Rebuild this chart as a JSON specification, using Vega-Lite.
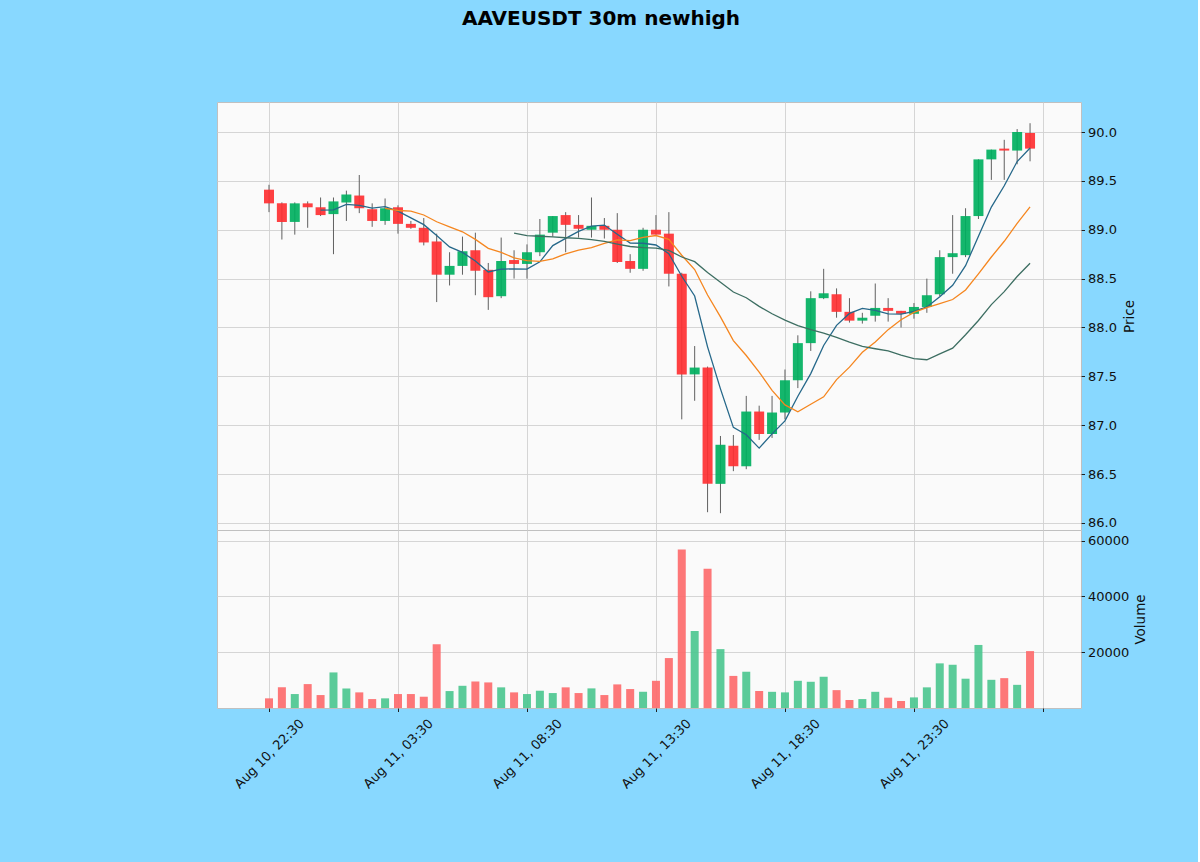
{
  "$schema": "https://vega.github.io/schema/vega-lite/v6.json",
  "background": "#88d8ff",
  "padding": {"left": 216, "top": 8, "right": 50, "bottom": 74},
  "title": {"text": "AAVEUSDT 30m newhigh", "font": "DejaVu Sans", "fontSize": 20, "fontWeight": "bold", "color": "#000000", "anchor": "middle", "frame": "group", "dx": -48, "offset": 57, "baseline": "alphabetic"},
  "config": {
    "font": "DejaVu Sans",
    "view": {"fill": "#fafafa", "stroke": "#c0c0c0", "strokeWidth": 1},
    "axis": {
      "labelFont": "DejaVu Sans", "labelFontSize": 13, "labelColor": "#101010",
      "titleFont": "DejaVu Sans", "titleFontSize": 13.5, "titleFontWeight": "normal", "titleColor": "#101010",
      "gridColor": "#d0d0d0", "gridWidth": 0.9, "tickColor": "#202020", "tickSize": 3.5, "domain": false
    }
  },
  "data": {"values": [
    {"i":0,"open":89.41,"high":89.46,"low":89.18,"close":89.27,"volume":3460},
    {"i":1,"open":89.27,"high":89.28,"low":88.90,"close":89.08,"volume":7400},
    {"i":2,"open":89.08,"high":89.28,"low":88.95,"close":89.27,"volume":5000},
    {"i":3,"open":89.27,"high":89.29,"low":89.02,"close":89.23,"volume":8570},
    {"i":4,"open":89.23,"high":89.33,"low":89.14,"close":89.15,"volume":4640},
    {"i":5,"open":89.16,"high":89.33,"low":88.75,"close":89.29,"volume":12750},
    {"i":6,"open":89.28,"high":89.40,"low":89.09,"close":89.36,"volume":7030},
    {"i":7,"open":89.35,"high":89.56,"low":89.17,"close":89.22,"volume":5600},
    {"i":8,"open":89.21,"high":89.27,"low":89.03,"close":89.09,"volume":3200},
    {"i":9,"open":89.09,"high":89.32,"low":89.05,"close":89.22,"volume":3460},
    {"i":10,"open":89.23,"high":89.25,"low":88.96,"close":89.06,"volume":5000},
    {"i":11,"open":89.06,"high":89.09,"low":89.01,"close":89.02,"volume":5000},
    {"i":12,"open":89.02,"high":89.12,"low":88.84,"close":88.87,"volume":4040},
    {"i":13,"open":88.88,"high":88.96,"low":88.26,"close":88.54,"volume":22850},
    {"i":14,"open":88.54,"high":88.77,"low":88.43,"close":88.63,"volume":6070},
    {"i":15,"open":88.63,"high":88.93,"low":88.54,"close":88.78,"volume":7960},
    {"i":16,"open":88.79,"high":88.97,"low":88.33,"close":88.58,"volume":9520},
    {"i":17,"open":88.59,"high":88.66,"low":88.18,"close":88.31,"volume":9170},
    {"i":18,"open":88.32,"high":88.92,"low":88.30,"close":88.68,"volume":7400},
    {"i":19,"open":88.69,"high":88.79,"low":88.50,"close":88.65,"volume":5600},
    {"i":20,"open":88.65,"high":88.85,"low":88.50,"close":88.77,"volume":5000},
    {"i":21,"open":88.77,"high":89.11,"low":88.73,"close":88.95,"volume":6190},
    {"i":22,"open":88.97,"high":89.14,"low":88.93,"close":89.14,"volume":5360},
    {"i":23,"open":89.15,"high":89.18,"low":88.77,"close":89.05,"volume":7400},
    {"i":24,"open":89.05,"high":89.15,"low":88.92,"close":89.01,"volume":5360},
    {"i":25,"open":89.00,"high":89.33,"low":88.92,"close":89.04,"volume":7030},
    {"i":26,"open":89.04,"high":89.12,"low":88.91,"close":89.00,"volume":4640},
    {"i":27,"open":89.00,"high":89.17,"low":88.66,"close":88.67,"volume":8460},
    {"i":28,"open":88.68,"high":88.75,"low":88.56,"close":88.60,"volume":6790},
    {"i":29,"open":88.60,"high":89.02,"low":88.58,"close":89.00,"volume":5820},
    {"i":30,"open":89.00,"high":89.15,"low":88.95,"close":88.95,"volume":9750},
    {"i":31,"open":88.96,"high":89.18,"low":88.42,"close":88.55,"volume":17900},
    {"i":32,"open":88.55,"high":88.56,"low":87.06,"close":87.52,"volume":56800},
    {"i":33,"open":87.52,"high":87.81,"low":87.25,"close":87.59,"volume":27600},
    {"i":34,"open":87.59,"high":87.60,"low":86.11,"close":86.40,"volume":49900},
    {"i":35,"open":86.40,"high":86.89,"low":86.10,"close":86.80,"volume":21100},
    {"i":36,"open":86.79,"high":86.90,"low":86.53,"close":86.58,"volume":11500},
    {"i":37,"open":86.58,"high":87.30,"low":86.55,"close":87.14,"volume":13000},
    {"i":38,"open":87.14,"high":87.20,"low":86.85,"close":86.91,"volume":6100},
    {"i":39,"open":86.91,"high":87.30,"low":86.87,"close":87.13,"volume":5800},
    {"i":40,"open":87.13,"high":87.57,"low":87.06,"close":87.46,"volume":5600},
    {"i":41,"open":87.46,"high":87.92,"low":87.38,"close":87.84,"volume":9750},
    {"i":42,"open":87.84,"high":88.37,"low":87.76,"close":88.30,"volume":9400},
    {"i":43,"open":88.30,"high":88.60,"low":88.29,"close":88.35,"volume":11200},
    {"i":44,"open":88.34,"high":88.40,"low":88.10,"close":88.16,"volume":6400},
    {"i":45,"open":88.16,"high":88.30,"low":88.05,"close":88.07,"volume":2860},
    {"i":46,"open":88.07,"high":88.15,"low":88.04,"close":88.10,"volume":3200},
    {"i":47,"open":88.12,"high":88.45,"low":88.06,"close":88.20,"volume":5800},
    {"i":48,"open":88.20,"high":88.30,"low":88.06,"close":88.17,"volume":3700},
    {"i":49,"open":88.17,"high":88.17,"low":88.00,"close":88.14,"volume":2500},
    {"i":50,"open":88.14,"high":88.25,"low":88.09,"close":88.21,"volume":3800},
    {"i":51,"open":88.21,"high":88.50,"low":88.15,"close":88.33,"volume":7400},
    {"i":52,"open":88.34,"high":88.79,"low":88.32,"close":88.72,"volume":16000},
    {"i":53,"open":88.72,"high":89.15,"low":88.55,"close":88.76,"volume":15500},
    {"i":54,"open":88.74,"high":89.22,"low":88.72,"close":89.14,"volume":10500},
    {"i":55,"open":89.14,"high":89.72,"low":89.11,"close":89.72,"volume":22600},
    {"i":56,"open":89.72,"high":89.82,"low":89.51,"close":89.82,"volume":10100},
    {"i":57,"open":89.83,"high":89.92,"low":89.51,"close":89.81,"volume":10700},
    {"i":58,"open":89.81,"high":90.03,"low":89.67,"close":90.00,"volume":8300},
    {"i":59,"open":89.99,"high":90.09,"low":89.70,"close":89.83,"volume":20400}
  ]},
  "spacing": 0,
  "bounds": "flush",
  "vconcat": [
    {
      "width": 864,
      "height": 428,
      "encoding": {
        "x": {"field": "i", "type": "quantitative", "scale": {"domain": [-4.03, 62.95], "nice": false, "zero": false, "padding": 0},
              "axis": {"values": [0, 10, 20, 30, 40, 50, 60], "labels": false, "ticks": false, "title": null, "grid": true}}
      },
      "layer": [
        {
          "mark": {"type": "rule", "color": "#606060", "strokeWidth": 1},
          "encoding": {
            "y": {"field": "low", "type": "quantitative", "scale": {"domain": [85.928, 90.307], "nice": false, "zero": false},
                  "axis": {"orient": "right", "values": [86, 86.5, 87, 87.5, 88, 88.5, 89, 89.5, 90], "format": ".1f", "title": "Price", "titleAngle": -90, "titleBaseline": "top", "grid": true, "labelPadding": 3, "titlePadding": 6}},
            "y2": {"field": "high"}
          }
        },
        {
          "mark": {"type": "bar", "size": 10, "opacity": 0.92},
          "encoding": {
            "y": {"field": "open", "type": "quantitative"},
            "y2": {"field": "close"},
            "color": {"condition": {"test": "datum.close >= datum.open", "value": "#00b060"}, "value": "#fe3032"}
          }
        },
        {
          "transform": [
            {"window": [{"op": "mean", "field": "close", "as": "ma"}], "frame": [-4, 0], "sort": [{"field": "i"}]},
            {"filter": "datum.i >= 4"}
          ],
          "mark": {"type": "line", "color": "#26688a", "strokeWidth": 1.3},
          "encoding": {"y": {"field": "ma", "type": "quantitative"}}
        },
        {
          "transform": [
            {"window": [{"op": "mean", "field": "close", "as": "ma"}], "frame": [-9, 0], "sort": [{"field": "i"}]},
            {"filter": "datum.i >= 9"}
          ],
          "mark": {"type": "line", "color": "#f5861f", "strokeWidth": 1.3},
          "encoding": {"y": {"field": "ma", "type": "quantitative"}}
        },
        {
          "transform": [
            {"window": [{"op": "mean", "field": "close", "as": "ma"}], "frame": [-19, 0], "sort": [{"field": "i"}]},
            {"filter": "datum.i >= 19"}
          ],
          "mark": {"type": "line", "color": "#3d6e62", "strokeWidth": 1.3},
          "encoding": {"y": {"field": "ma", "type": "quantitative"}}
        }
      ]
    },
    {
      "width": 864,
      "height": 178,
      "mark": {"type": "bar", "size": 8, "opacity": 0.92},
      "encoding": {
        "x": {"field": "i", "type": "quantitative", "scale": {"domain": [-4.03, 62.95], "nice": false, "zero": false, "padding": 0},
              "axis": {"values": [0, 10, 20, 30, 40, 50, 60], "title": null, "grid": true,
                       "labelExpr": "datum.value == 0 ? 'Aug 10, 22:30' : datum.value == 10 ? 'Aug 11, 03:30' : datum.value == 20 ? 'Aug 11, 08:30' : datum.value == 30 ? 'Aug 11, 13:30' : datum.value == 40 ? 'Aug 11, 18:30' : datum.value == 50 ? 'Aug 11, 23:30' : ''",
                       "labelAngle": -45, "labelAlign": "center", "labelBaseline": "middle", "labelPadding": 42, "labelOverlap": false, "labelFlush": false, "labelBound": false}},
        "y": {"field": "volume", "type": "quantitative", "scale": {"domain": [0, 63800], "nice": false},
              "axis": {"orient": "right", "values": [20000, 40000, 60000], "format": "d", "title": "Volume", "titleAngle": -90, "titleBaseline": "top", "grid": true, "labelPadding": 3, "titlePadding": 5}},
        "color": {"condition": {"test": "datum.close >= datum.open", "value": "#4dc790"}, "value": "#fd6b6c"}
      }
    }
  ]
}
